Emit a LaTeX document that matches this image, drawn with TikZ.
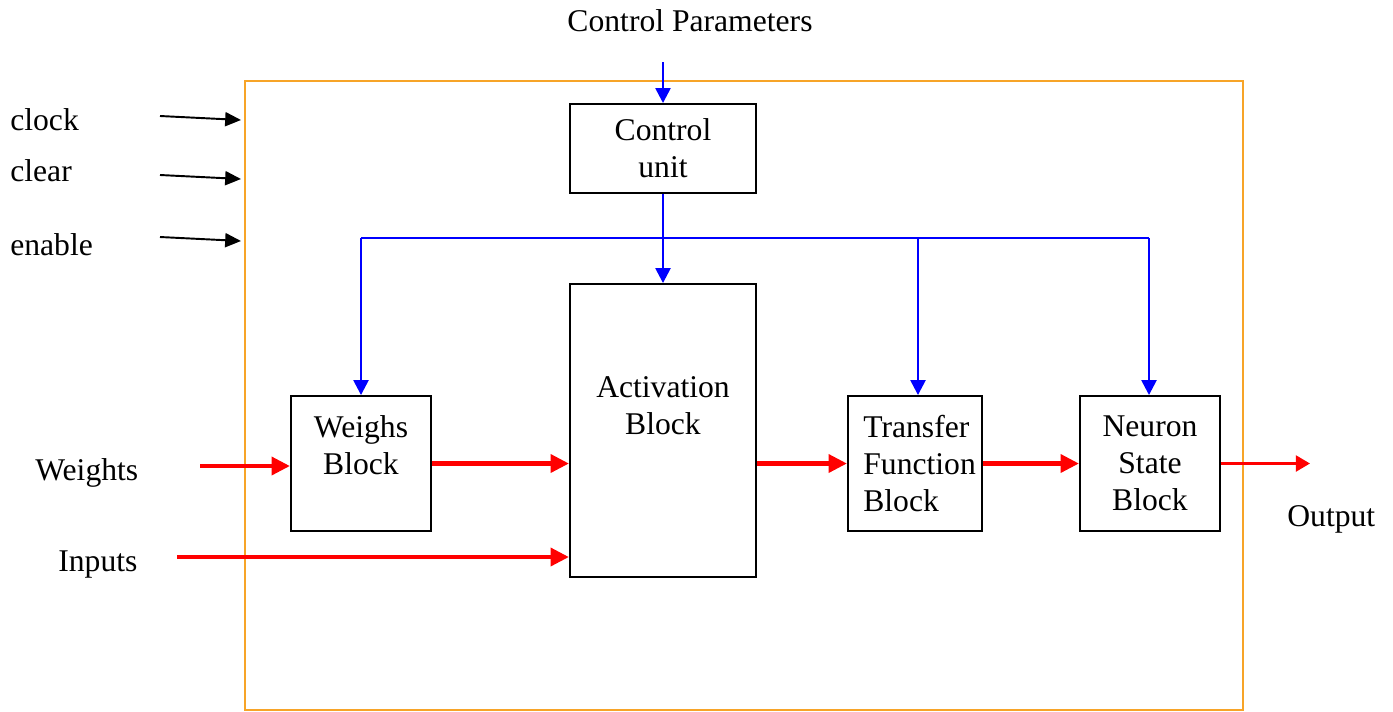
\documentclass[tikz,border=0pt]{standalone}
\usepackage{fontspec}
\setmainfont{Liberation Serif}
\usetikzlibrary{arrows.meta, positioning}
\definecolor{fblue}{RGB}{0, 0, 255}
\definecolor{fred}{RGB}{255, 0, 0}
\definecolor{forange}{RGB}{247, 164, 40}

\begin{document}
\begin{tikzpicture}[
    x=0.02cm, y=-0.02cm,
    font=\fontsize{18}{21}\selectfont,
    block/.style={draw, line width=1.1pt, inner sep=0pt, align=center},
    btext/.style={align=center, inner sep=0pt},
    outer/.style={inner sep=0pt},
    sig/.style={line width=1.1pt, -{Triangle[length=9pt, width=8pt]}},
    ctrl/.style={draw=fblue, line width=1.4pt, -{Triangle[length=8.5pt, width=8.5pt]}},
    bus/.style={draw=fblue, line width=1.4pt},
    data/.style={draw=fred, line width=2.8pt, -{Triangle[length=10.5pt, width=10pt]}},
    outarrow/.style={draw=fred, line width=1.5pt, -{Triangle[length=8pt, width=9pt]}},
]
    \useasboundingbox (0,0) rectangle (1393,711);

    % Neuron frame
    \node[draw=forange, line width=1.1pt, minimum width=19.96cm, minimum height=12.58cm, inner sep=0pt] (frame) at (744,395.5) {};

    % Blocks
    \node[block, minimum width=3.72cm, minimum height=1.78cm] (cu) at (663,148.5) {Control\\unit};
    \node[block, minimum width=3.72cm, minimum height=5.86cm] (act) at (663,430.5) {};
    \node[btext] (acttxt) at (663,405.5) {Activation\\Block};
    \node[block, minimum width=2.8cm, minimum height=2.7cm] (wb) at (361,463.5) {};
    \node[btext] (wbtxt) at (361,445) {Weighs\\Block};
    \node[block, minimum width=2.68cm, minimum height=2.7cm] (tf) at (915,463.5) {};
    \node[btext, align=left, anchor=west] (tftxt) at (863,463.5) {Transfer\\Function\\Block};
    \node[block, minimum width=2.8cm, minimum height=2.7cm] (ns) at (1150,463.5) {Neuron\\State\\Block};

    % Outside labels
    \node[outer, anchor=base] (cplabel) at (690,31) {Control Parameters};
    \node[outer, anchor=base west] (clklabel) at (10,130) {clock};
    \node[outer, anchor=base west] (clrlabel) at (10,181) {clear};
    \node[outer, anchor=base west] (enlabel) at (10,255) {enable};
    \node[outer, anchor=base west] (wlabel) at (35,480) {Weights};
    \node[outer, anchor=base west] (inlabel) at (58,571) {Inputs};
    \node[outer, anchor=base west] (outlabel) at (1287,526) {Output};

    % Free ends
    \coordinate (clk0) at (160,116);
    \coordinate (clk1) at (241,120);
    \coordinate (clr0) at (160,175);
    \coordinate (clr1) at (241,179);
    \coordinate (en0) at (160,237);
    \coordinate (en1) at (241,241);
    \coordinate (cpin) at (663,62);
    \coordinate (busL) at (361,238);
    \coordinate (busT) at (918,238);
    \coordinate (busR) at (1149,238);
    \coordinate (win) at (200,466);
    \coordinate (inp) at (177,557);
    \coordinate (outp) at (1310,463.5);

    % Control signals
    \draw[sig] (clk0) -- (clk1);
    \draw[sig] (clr0) -- (clr1);
    \draw[sig] (en0) -- (en1);

    % Control path
    \draw[ctrl] (cpin) -- (cu.north);
    \draw[ctrl] (cu.south) -- (act.north);
    \draw[bus] (busL) -- (busR);
    \draw[ctrl] (busL) -- (wb.north);
    \draw[ctrl] (busT) -- (busT |- tf.north);
    \draw[ctrl] (busR) -- (busR |- ns.north);

    % Data path
    \draw[data] (win) -- (win -| wb.west);
    \draw[data] (wb.east) -- (wb.east -| act.west);
    \draw[data] (inp) -- (inp -| act.west);
    \draw[data] (act.east |- tf.west) -- (tf.west);
    \draw[data] (tf.east) -- (ns.west);
    \draw[outarrow] (ns.east) -- (outp);
\end{tikzpicture}
\end{document}
